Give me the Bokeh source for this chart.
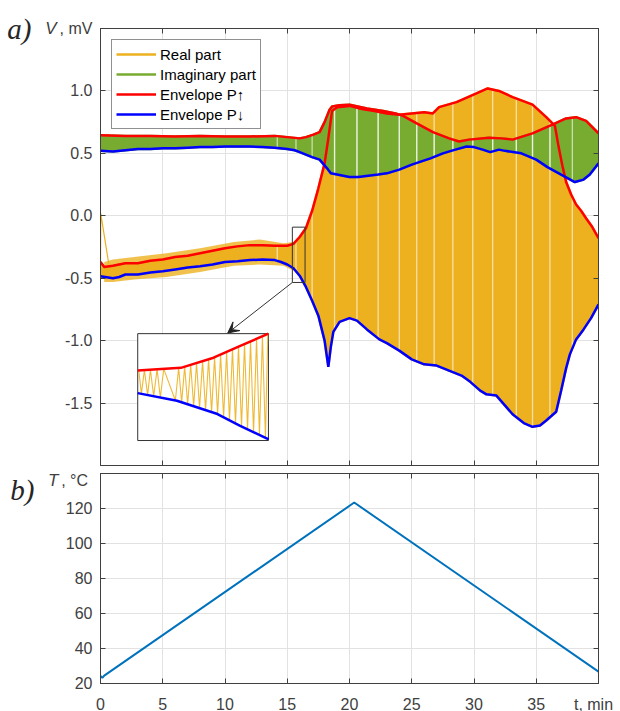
import numpy as np
from bokeh.plotting import figure
from bokeh.layouts import column
from bokeh.models import (Range1d, FixedTicker, LinearAxis, Legend, LegendItem,
                          Arrow, VeeHead)
from bokeh.embed import file_html
from bokeh.resources import INLINE

# ---------------- panel a) : voltage, mV, versus time, min ----------------
real_up_t = [0, 0.3, 1, 2, 3, 4, 5, 6, 7, 8, 9, 10, 11, 12, 13, 14, 15, 15.5, 16, 16.5,
             17, 17.5, 18, 18.3, 18.6, 19, 20, 21, 22, 23, 24, 25, 26, 26.7, 27.2, 28.6,
             30.2, 31.1, 32, 33.1, 34.7, 35.8, 36.5, 36.8, 37.1, 37.4, 37.8, 38.2, 38.6,
             39, 39.5, 40]
real_up_v = [-0.37, -0.41, -0.40, -0.38, -0.38, -0.36, -0.35, -0.33, -0.32, -0.30, -0.28,
             -0.26, -0.245, -0.235, -0.235, -0.24, -0.24, -0.225, -0.17, -0.10,
             0.04, 0.22, 0.42, 0.62, 0.84, 0.87, 0.88, 0.855, 0.84, 0.82, 0.81, 0.82, 0.83,
             0.82, 0.87, 0.91, 0.98, 1.02, 1.00, 0.95, 0.89, 0.79, 0.72, 0.55, 0.40, 0.27,
             0.17, 0.09, 0.04, -0.02, -0.09, -0.18]
real_lo_t = [0, 1, 1.5, 2, 3, 4, 5, 6, 7, 8, 9, 10, 11, 12, 13, 14, 14.5, 15, 15.5, 16,
             16.5, 17, 17.5, 18, 18.3, 18.5, 18.7, 19.2, 20, 20.6, 21.4, 22.4, 23, 24, 25,
             26, 27, 28, 29, 29.7, 30.5, 31, 31.8, 32.5, 33.1, 34, 34.7, 35.3, 35.8, 36.6,
             37, 37.4, 37.7, 38.2, 38.8, 39.4, 40]
real_lo_v = [-0.485, -0.50, -0.49, -0.47, -0.47, -0.455, -0.445, -0.43, -0.415, -0.405,
             -0.39, -0.37, -0.365, -0.355, -0.35, -0.355, -0.37, -0.39, -0.42, -0.48,
             -0.57, -0.68, -0.80, -1.00, -1.21, -1.05, -0.93, -0.85, -0.82, -0.84, -0.91,
             -0.99, -1.02, -1.08, -1.15, -1.19, -1.20, -1.24, -1.28, -1.33, -1.40, -1.43,
             -1.44, -1.52, -1.59, -1.66, -1.69, -1.68, -1.64, -1.57, -1.40, -1.22, -1.11,
             -0.99, -0.91, -0.82, -0.71]
# noisy extremes of the real part before the transition
real_noise_t = [0.3, 1, 2.7, 5.3, 8, 10.7, 12.8, 14.7, 15.5]
real_noise_hi = [-0.37, -0.35, -0.33, -0.30, -0.26, -0.21, -0.19, -0.22, -0.21]
real_noise_lo = [-0.53, -0.53, -0.51, -0.49, -0.45, -0.40, -0.39, -0.40, -0.44]
imag_up_t = [0, 2, 4, 6, 8, 10, 12, 14, 16, 16.5, 17.1, 17.6, 18, 18.4, 18.6, 19.2, 20,
             21.4, 22.7, 23.7, 24.3, 25.4, 26.7, 28, 28.8, 29.6, 31.2, 32.2, 33.1, 34.7,
             36.3, 37.4, 38.2, 39, 40]
imag_up_v = [0.645, 0.64, 0.64, 0.635, 0.64, 0.635, 0.635, 0.64, 0.62, 0.63, 0.65, 0.67,
             0.75, 0.85, 0.875, 0.885, 0.89, 0.86, 0.84, 0.82, 0.80, 0.74, 0.67, 0.62,
             0.595, 0.61, 0.625, 0.62, 0.61, 0.66, 0.73, 0.78, 0.79, 0.76, 0.66]
imag_lo_t = [0, 1, 2, 3, 4, 5, 6, 7, 8, 9, 10, 11, 12, 13, 14, 15, 15.6, 16, 17, 17.6,
             18.2, 18.5, 19, 20, 20.7, 21.5, 22.3, 23, 24, 25, 25.6, 26.5, 27.5, 28.5,
             29.4, 30, 30.7, 31.3, 32, 32.5, 33.8, 35, 35.9, 37, 38.1, 38.8, 39.3, 40]
imag_lo_v = [0.52, 0.515, 0.525, 0.535, 0.535, 0.54, 0.54, 0.545, 0.55, 0.55, 0.555,
             0.555, 0.555, 0.55, 0.545, 0.535, 0.525, 0.51, 0.47, 0.45, 0.38, 0.34, 0.33,
             0.31, 0.31, 0.32, 0.33, 0.34, 0.37, 0.41, 0.43, 0.46, 0.50, 0.53, 0.555, 0.55,
             0.53, 0.51, 0.53, 0.52, 0.50, 0.45, 0.39, 0.33, 0.27, 0.29, 0.33, 0.42]
real_spike_t = [0.0, 0.02, 0.67]
real_spike_v = [-0.45, 0.02, -0.39]
gap_t = [14.2, 15.7, 17.0, 18.8, 20.6, 22.3, 24.0, 25.4, 26.8, 28.3, 29.9, 31.5, 33.4,
         34.7, 36.1, 37.9]

inset_up_t = [15.4, 15.73, 15.98, 16.18, 16.4]
inset_up_v = [-0.243, -0.232, -0.19, -0.142, -0.09]
inset_lo_t = [15.4, 15.70, 16.01, 16.18, 16.39, 16.4]
inset_lo_v = [-0.337, -0.369, -0.424, -0.472, -0.526, -0.53]
inset_turn_t = [15.408, 15.428, 15.451, 15.476, 15.497, 15.522, 15.548, 15.573, 15.599,
                15.688, 15.713, 15.736, 15.759, 15.782, 15.805, 15.828, 15.850, 15.873,
                15.896, 15.919, 15.942, 15.965, 15.988, 16.011, 16.034, 16.057, 16.080,
                16.102, 16.125, 16.148, 16.171, 16.194, 16.217, 16.240, 16.263, 16.286,
                16.309, 16.331, 16.354, 16.377, 16.395]

# ---------------- panel b) : temperature ----------------
temp_t = [0.0, 0.15, 0.3, 20.38, 40.0]
temp_c = [24.3, 23.2, 24.5, 123.4, 26.8]

# ticks and tick labels
x_ticks = [0, 5, 10, 15, 20, 25, 30, 35, 40]
v_ticks = [-1.5, -1.0, -0.5, 0.0, 0.5, 1.0, 1.5]
v_tick_labels = ["-1.5", "-1.0", "-0.5", "0.0", "0.5", "1.0", ", mV"]
temp_ticks = [20, 40, 60, 80, 100, 120, 140]
temp_label_pos = [20, 40, 60, 80, 100, 120, 136]
temp_tick_labels = ["20", "40", "60", "80", "100", "120", ",  \u00b0C"]
x_label_pos = [0, 5, 10, 15, 20, 25, 30, 35, 39.6]
x_tick_labels = ["0", "5", "10", "15", "20", "25", "30", "35", "t, min"]

ORANGE = "#EDB120"
GREEN = "#77AC30"
RED = "#FF0000"
BLUE = "#0000FF"
TBLUE = "#0072BD"
AXC = "#404040"
GRIDC = "#e2e2e2"
TXT = "#404040"
FONT = "Liberation Sans"
SERIF = "Liberation Serif"


def base_axis(ax):
    ax.major_tick_out = 0
    ax.minor_tick_out = 0
    ax.axis_line_color = AXC
    ax.major_tick_line_color = AXC
    ax.minor_tick_line_color = AXC
    ax.major_label_text_font = FONT
    ax.major_label_text_font_size = "16px"
    ax.major_label_text_color = TXT


def setup(p, xpos, xlab, ypos, ylab, xgrid, ygrid):
    # labelled major ticks (no marks); tick marks drawn as "minor" ticks at the grid
    p.xaxis.ticker = FixedTicker(ticks=xpos, minor_ticks=xgrid)
    p.yaxis.ticker = FixedTicker(ticks=ypos, minor_ticks=ygrid)
    p.xaxis.major_label_overrides = {float(k): s for k, s in zip(xpos, xlab)}
    p.yaxis.major_label_overrides = {float(k): s for k, s in zip(ypos, ylab)}
    for ax in list(p.xaxis) + list(p.yaxis):
        base_axis(ax)
        ax.major_tick_in = 0
        ax.minor_tick_in = 5
    p.xaxis.major_label_standoff = 12
    p.yaxis.major_label_standoff = 8
    p.xgrid.ticker = FixedTicker(ticks=xgrid)
    p.ygrid.ticker = FixedTicker(ticks=ygrid)
    p.xgrid.grid_line_color = GRIDC
    p.ygrid.grid_line_color = GRIDC
    p.outline_line_color = AXC
    p.outline_line_width = 1
    for place, ticks in (("right", ygrid), ("above", xgrid)):
        ax = LinearAxis(ticker=FixedTicker(ticks=ticks),
                        major_label_overrides={float(k): "" for k in ticks},
                        major_tick_in=5, major_tick_out=0, major_label_standoff=0,
                        minor_tick_line_color=None, axis_line_color=AXC,
                        major_tick_line_color=AXC, major_label_text_font_size="1px")
        p.add_layout(ax, place)


def text_axis(p, pos, text, font, size, style, standoff):
    # an extra, line-less left axis that only carries one piece of text
    ax = LinearAxis(ticker=FixedTicker(ticks=[pos]),
                    major_label_overrides={float(pos): text},
                    major_tick_in=0, major_tick_out=0, minor_tick_line_color=None,
                    major_tick_line_color=None, axis_line_color=None,
                    major_label_standoff=standoff, major_label_text_font=font,
                    major_label_text_font_size=size, major_label_text_font_style=style,
                    major_label_text_color="#262626" if font == SERIF else TXT)
    p.add_layout(ax, "left")


# ================= figure a) =================
p1 = figure(frame_width=498, frame_height=437, x_range=Range1d(0, 40),
            y_range=Range1d(-2.0, 1.5), output_backend="svg", toolbar_location=None,
            min_border_left=100, min_border_right=22, min_border_top=28,
            min_border_bottom=1, border_fill_color="white")
setup(p1, x_ticks, [""] * len(x_ticks), v_ticks, v_tick_labels, x_ticks,
      [-2.0] + v_ticks)
text_axis(p1, 1.5, "V", FONT, "17px", "italic", 0)
text_axis(p1, 1.5, "a)", SERIF, "29px", "italic", 11)

p1.patch(real_noise_t + real_noise_t[::-1], real_noise_hi + real_noise_lo[::-1],
         fill_color=ORANGE, fill_alpha=0.8, line_color=None)
p1.patch(real_up_t + real_lo_t[::-1], real_up_v + real_lo_v[::-1],
         fill_color=ORANGE, line_color=ORANGE, line_width=1)
r_real = p1.line(real_up_t, real_up_v, line_color=ORANGE, line_width=2.5)
p1.line(real_lo_t, real_lo_v, line_color=ORANGE, line_width=2.5)
p1.line(real_spike_t, real_spike_v, line_color=ORANGE, line_width=1.2)
p1.patch(imag_up_t + imag_lo_t[::-1], imag_up_v + imag_lo_v[::-1],
         fill_color=GREEN, line_color=GREEN, line_width=1)
r_imag = p1.line(imag_up_t, imag_up_v, line_color=GREEN, line_width=2.5)
p1.line(imag_lo_t, imag_lo_v, line_color=GREEN, line_width=2.5)

g = np.array(gap_t)
ru = np.interp(g, real_up_t, real_up_v)
rl = np.interp(g, real_lo_t, real_lo_v)
iu = np.interp(g, imag_up_t, imag_up_v)
il = np.interp(g, imag_lo_t, imag_lo_v)
p1.segment(g, rl, g, ru, line_color="white", line_alpha=0.6, line_width=1.3)
p1.segment(g, il, g, iu, line_color="white", line_alpha=0.6, line_width=1.3)

r_up = p1.line(real_up_t, real_up_v, line_color=RED, line_width=2.5)
p1.line(imag_up_t, imag_up_v, line_color=RED, line_width=2.5)
r_lo = p1.line(real_lo_t, real_lo_v, line_color=BLUE, line_width=2.5)
p1.line(imag_lo_t, imag_lo_v, line_color=BLUE, line_width=2.5)

ZT0, ZT1, ZV0, ZV1 = 15.41, 16.43, -0.091, -0.534
IX0, IX1, IY0, IY1 = 2.99, 13.49, -0.944, -1.80
IT0, IT1, IV0, IV1 = 15.4, 16.4, -0.09, -0.534


def ix(t):
    return IX0 + (np.asarray(t, float) - IT0) / (IT1 - IT0) * (IX1 - IX0)


def iy(v):
    return IY0 + (np.asarray(v, float) - IV0) / (IV1 - IV0) * (IY1 - IY0)


p1.quad(left=[ZT0], right=[ZT1], top=[ZV0], bottom=[ZV1], fill_color=None,
        line_color="#333333", line_width=1)
p1.add_layout(Arrow(end=VeeHead(size=11, fill_color="#222222", line_color="#222222"),
                    x_start=ZT0, y_start=ZV1, x_end=10.22, y_end=IY0 + 0.005,
                    line_color="#333333", line_width=1))
p1.quad(left=[IX0], right=[IX1], top=[IY0], bottom=[IY1], fill_color="white",
        line_color="#333333", line_width=1)
tt = np.array(inset_turn_t)
tu = np.interp(tt, inset_up_t, inset_up_v)
tl = np.interp(tt, inset_lo_t, inset_lo_v)
zig_v = np.where(np.arange(len(tt)) % 2 == 0, tu, tl)
p1.line(ix(tt), iy(zig_v), line_color=ORANGE, line_width=1.1, line_alpha=0.9)
p1.line(ix(inset_up_t), iy(inset_up_v), line_color=RED, line_width=2.5)
p1.line(ix(inset_lo_t), iy(inset_lo_v), line_color=BLUE, line_width=2.5)

legend = Legend(items=[LegendItem(label="Real part", renderers=[r_real]),
                       LegendItem(label="Imaginary part", renderers=[r_imag]),
                       LegendItem(label="Envelope P\u2191", renderers=[r_up]),
                       LegendItem(label="Envelope P\u2193", renderers=[r_lo])],
                location="top_left", margin=11, padding=4, spacing=0,
                glyph_width=40, glyph_height=20, label_height=20, label_standoff=4,
                label_text_font=FONT, label_text_font_size="15px",
                label_text_color="black", border_line_color="#222222",
                border_line_width=1, background_fill_color="white",
                background_fill_alpha=1.0)
p1.add_layout(legend)

# ================= figure b) =================
p2 = figure(frame_width=498, frame_height=210, x_range=Range1d(0, 40),
            y_range=Range1d(20, 140), output_backend="svg", toolbar_location=None,
            min_border_left=100, min_border_right=22, min_border_top=7,
            min_border_bottom=28, border_fill_color="white")
setup(p2, x_label_pos, x_tick_labels, temp_label_pos, temp_tick_labels, x_ticks,
      temp_ticks)
text_axis(p2, 136, "T", FONT, "17px", "italic", 0)
text_axis(p2, 139, "b)", SERIF, "29px", "italic", 11)
p2.line(temp_t, temp_c, line_color=TBLUE, line_width=2)

layout = column(p1, p2, spacing=0)
open("out.html", "w").write(file_html(layout, INLINE))
